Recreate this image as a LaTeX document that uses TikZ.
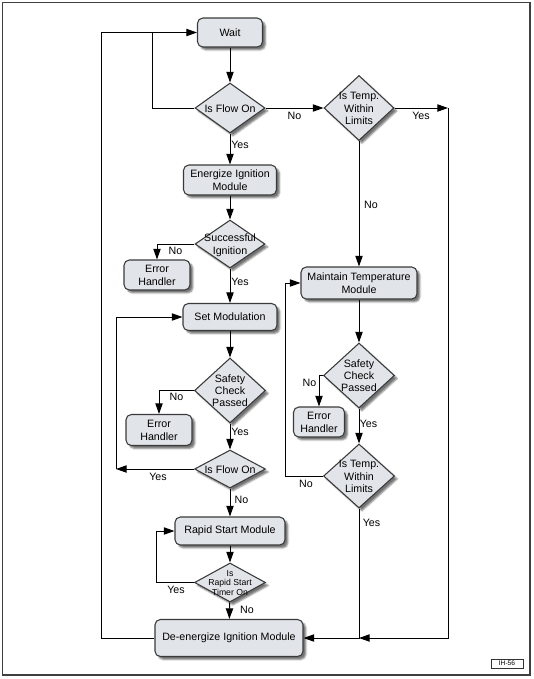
\documentclass[tikz,border=0pt]{standalone}
\usepackage{fontspec}
\setmainfont{Liberation Sans}
\usetikzlibrary{arrows.meta}
\usetikzlibrary{shapes.geometric}
\usetikzlibrary{shadows.blur}

\definecolor{boxfill}{RGB}{225,228,233}
\definecolor{boxline}{RGB}{58,58,58}

\tikzset{
  flowbox/.style={rectangle, rounded corners=4pt, draw=boxline, fill=boxfill, line width=0.8pt,
    align=center, inner sep=1pt, font=\fontsize{8}{9.6}\selectfont,
    blur shadow={shadow xshift=2.2pt, shadow yshift=-2.2pt, shadow blur radius=1.2pt, shadow opacity=55}},
  decision/.style={diamond, draw=boxline, fill=boxfill, line width=0.8pt, inner sep=0pt,
    font=\fontsize{8}{9.6}\selectfont,
    blur shadow={shadow xshift=2.2pt, shadow yshift=-2.2pt, shadow blur radius=1.2pt, shadow opacity=55}},
  answer/.style={inner sep=0pt, font=\fontsize{8}{9.6}\selectfont},
  arr/.style={-{Triangle[length=8pt,width=5.5pt]}, line width=0.75pt},
  link/.style={line width=0.75pt}
}

% text of a diamond, kept out of the shape size
\newcommand{\dtext}[1]{\makebox[0pt]{\raisebox{-0.4em}[0pt][0pt]{\begin{tabular}{@{}c@{}}#1\end{tabular}}}}

\begin{document}
\begin{tikzpicture}[x=0.75pt,y=0.75pt,yscale=-1,xscale=1]
\useasboundingbox (0,0) rectangle (533,679);
\renewcommand{\arraystretch}{0.95}

%Frame
\draw [color=black!75, line width=1.3pt] (2.5,2.5) rectangle (530,675);

%Main column
\node [flowbox, minimum width=65*0.75pt, minimum height=29*0.75pt] (wait) at (230,32.5) {Wait};
\node [decision, minimum width=70*0.75pt, minimum height=50*0.75pt] (flowA) at (230,108) {\dtext{Is Flow On}};
\node [flowbox, minimum width=93*0.75pt, minimum height=30*0.75pt] (energize) at (230,180) {Energize Ignition\\Module};
\node [decision, minimum width=70*0.75pt, minimum height=48*0.75pt] (ignite) at (230,244) {\dtext{Successful\\Ignition}};
\node [flowbox, minimum width=66*0.75pt, minimum height=30*0.75pt] (errA) at (157,275) {Error\\Handler};
\node [flowbox, minimum width=94*0.75pt, minimum height=27*0.75pt] (setmod) at (230,317) {Set Modulation};
\node [decision, minimum width=71*0.75pt, minimum height=65*0.75pt] (safeA) at (230,390.5) {\dtext{Safety\\Check\\Passed}};
\node [flowbox, minimum width=66*0.75pt, minimum height=31*0.75pt] (errB) at (159,430) {Error\\Handler};
\node [decision, minimum width=71*0.75pt, minimum height=38*0.75pt] (flowB) at (230,469) {\dtext{Is Flow On}};
\node [flowbox, minimum width=110*0.75pt, minimum height=28*0.75pt] (rapid) at (230,531) {Rapid Start Module};
\node [decision, minimum width=71*0.75pt, minimum height=39*0.75pt] (timer) at (230,582.5) {\fontsize{6.5}{7.6}\selectfont\dtext{Is\\Rapid Start\\Timer On}};
\node [flowbox, minimum width=148*0.75pt, minimum height=37*0.75pt] (deenergize) at (229,638) {De-energize Ignition Module};

%Right column
\node [decision, minimum width=70*0.75pt, minimum height=65*0.75pt] (limitA) at (359,108) {\dtext{Is Temp.\\Within\\Limits}};
\node [flowbox, minimum width=116*0.75pt, minimum height=32*0.75pt] (maintain) at (359,283) {Maintain Temperature\\Module};
\node [decision, minimum width=71*0.75pt, minimum height=65*0.75pt] (safeB) at (359,375.5) {\dtext{Safety\\Check\\Passed}};
\node [flowbox, minimum width=51*0.75pt, minimum height=30*0.75pt] (errC) at (319,422) {Error\\Handler};
\node [decision, minimum width=71*0.75pt, minimum height=64*0.75pt] (limitB) at (359,476) {\dtext{Is Temp.\\Within\\Limits}};

%Bend points
\coordinate (topjoin) at (152,32.5);
\coordinate (outer) at (101,32.5);
\coordinate (setloop) at (116,469);
\coordinate (rapidloop) at (156,582.5);
\coordinate (templeft) at (285,476);
\coordinate (tempright) at (448,108);
\coordinate (lowjoin) at (359,638);

%Connectors
\draw [arr] (wait) -- (flowA);
\draw [arr] (flowA.west) -| (topjoin) -- (wait.west);
\draw [link] (deenergize.west) -| (outer) -- (topjoin);
\draw [arr] (flowA) -- (energize);
\draw [arr] (flowA.east) -- (limitA.west);
\draw [arr] (energize) -- (ignite);
\draw [arr] (ignite.west) -| (errA.north);
\draw [arr] (ignite) -- (setmod);
\draw [arr] (setmod) -- (safeA);
\draw [arr] (safeA.west) -| (errB.north);
\draw [arr] (safeA) -- (flowB);
\draw [arr] (flowB.west) -- (setloop);
\draw [arr] (setloop) |- (setmod.west);
\draw [arr] (flowB) -- (rapid);
\draw [arr] (rapid) -- (timer);
\draw [arr] (timer.west) -- (rapidloop) |- (rapid.west);
\draw [arr] (timer) -- (deenergize);
\draw [arr] (limitA.east) -- (tempright);
\draw [arr] (tempright) |- (lowjoin);
\draw [arr] (limitA) -- (maintain);
\draw [arr] (maintain) -- (safeB);
\draw [arr] (safeB.west) -| (errC.north);
\draw [arr] (safeB) -- (limitB);
\draw [arr] (limitB.west) -- (templeft) |- (maintain.west);
\draw [arr] (limitB.south) |- (deenergize.east);

%Answer labels
\node [answer] (yesA) at (240,145) {Yes};
\node [answer] (noA) at (294.5,116) {No};
\node [answer] (yesB) at (421,116) {Yes};
\node [answer] (noB) at (371,205) {No};
\node [answer] (noC) at (175.5,251) {No};
\node [answer] (yesC) at (240,282) {Yes};
\node [answer] (noD) at (176.5,397) {No};
\node [answer] (yesD) at (240,432) {Yes};
\node [answer] (yesE) at (158,477) {Yes};
\node [answer] (noE) at (241.5,500) {No};
\node [answer] (yesF) at (176,590) {Yes};
\node [answer] (noF) at (247,610) {No};
\node [answer] (noG) at (309.5,383) {No};
\node [answer] (yesG) at (368.5,424) {Yes};
\node [answer] (noH) at (306,484) {No};
\node [answer] (yesH) at (371.5,523) {Yes};

%Figure tag
\node [draw=black!80, line width=0.5pt, inner sep=0pt, minimum width=32*0.75pt, minimum height=9*0.75pt, font=\fontsize{5}{6}\selectfont] (tag) at (507,663.5) {IH-56};

\end{tikzpicture}
\end{document}
